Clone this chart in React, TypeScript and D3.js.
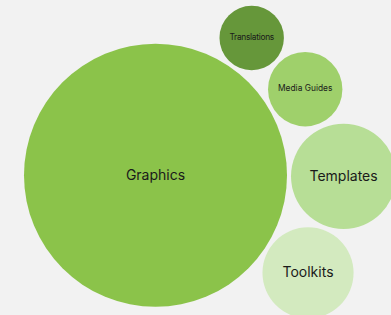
import * as React from "react";
import * as d3 from "d3";

// data
const categories = ["Graphics", "Templates", "Toolkits", "Media Guides", "Translations"];
const counts = [50, 8, 6, 4, 3];
const palette = ["#8bc34a", "#b7de96", "#d3eabf", "#9fd06b", "#66973a"];

const W = 391;
const H = 315;

const App = () => {
  const rScale = d3.scaleSqrt().domain([0, d3.max(counts) ?? 1]).range([0, 131.5]);

  // main bubble sits left, satellites orbit it at a small gap
  const mainR = rScale(counts[0]);
  const main = { x: 24 + mainR, y: 175.3 };
  const gap = 4;
  const orbitDeg = [0, 0.3, 32.6, -29.9, -55];

  const nodes = categories.map((name, i) => {
    const r = rScale(counts[i]);
    if (i === 0) return { name, r, x: main.x, y: main.y, color: palette[i] };
    const a = (orbitDeg[i] * Math.PI) / 180;
    const d = mainR + r + gap;
    return { name, r, x: main.x + d * Math.cos(a), y: main.y + d * Math.sin(a), color: palette[i] };
  });

  const fontFor = (r: number) => (r >= 44 ? 14 : 8.4);

  return (
    <svg
      width={W}
      height={H}
      viewBox={`0 0 ${W} ${H}`}
      style={{ position: "absolute", left: 0, top: 0, display: "block", background: "#f2f2f2" }}
    >
      {nodes.map((n) => (
        <g key={n.name}>
          <circle cx={n.x} cy={n.y} r={n.r} fill={n.color} />
          <text
            x={n.x}
            y={n.y - 1}
            textAnchor="middle"
            dominantBaseline="central"
            fill="#1a1a1a"
            fontSize={fontFor(n.r)}
            fontFamily="Inter, 'Noto Sans', sans-serif"
            letterSpacing={n.r < 35 ? -0.3 : 0}
          >
            {n.name}
          </text>
        </g>
      ))}
    </svg>
  );
};

export default App;
